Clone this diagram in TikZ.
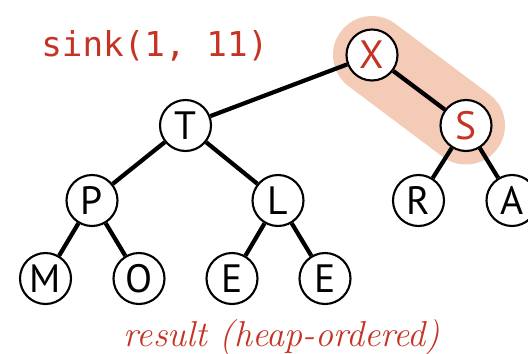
\documentclass[tikz,border=0pt]{standalone}
\usepackage{fontspec}
\usepackage{tikz}
\usetikzlibrary{positioning,arrows.meta}
\newfontfamily\keyfont{PT Sans}
\newfontfamily\codefont{DejaVu Sans Mono}
\definecolor{tracered}{RGB}{196,52,36}
\definecolor{softsalmon}{RGB}{243,203,183}
\tikzset{
    keynode/.style={
        draw,
        circle,
        fill=white,
        line width=1.2pt,
        inner sep=0pt,
        minimum size=1.02cm,
        font=\keyfont\fontsize{22.5}{24}\selectfont
    },
    redkey/.style={
        keynode,
        text=tracered
    },
    link/.style={line width=2.4pt},
    hilite/.style={line width=1.56cm, line cap=round, softsalmon}
}

\begin{document}
\begin{tikzpicture}

\useasboundingbox (0,0) rectangle (10.56,-7.06);

% highlighted path
\coordinate (hx) at (7.44,-1.10);
\coordinate (hs) at (9.32,-2.51);
\draw[hilite] (hx) -- (hs);

% ------------------------------------------------------------
% Heap nodes
% ------------------------------------------------------------

\node[redkey] (x) at (7.44,-1.10) {X};

\node[keynode] (t) at (3.71,-2.51) {T};
\node[redkey] (s) at (9.32,-2.51) {S};

\node[keynode] (p) at (1.84,-4.01) {P};
\node[keynode] (l) at (5.56,-4.01) {L};
\node[keynode] (r) at (8.37,-4.01) {R};
\node[keynode] (a) at (10.24,-4.01) {A};

\node[keynode] (m) at (0.91,-5.57) {M};
\node[keynode] (o) at (2.78,-5.57) {O};
\node[keynode] (e1) at (4.64,-5.57) {E};
\node[keynode] (e2) at (6.50,-5.57) {E};

% ------------------------------------------------------------
% Links
% ------------------------------------------------------------

\draw[link] (x) -- (t);
\draw[link] (x) -- (s);
\draw[link] (t) -- (p);
\draw[link] (t) -- (l);
\draw[link] (s) -- (r);
\draw[link] (s) -- (a);
\draw[link] (p) -- (m);
\draw[link] (p) -- (o);
\draw[link] (l) -- (e1);
\draw[link] (l) -- (e2);

% ------------------------------------------------------------
% Labels
% ------------------------------------------------------------

\node[anchor=base west, inner sep=0pt, text=tracered,
      font=\codefont\fontsize{19.5}{21}\selectfont] (call) at (0.82,-1.12)
{sink(1, 11)};

\node[anchor=base, inner sep=0pt, text=tracered,
      font=\itshape\fontsize{20.5}{22}\selectfont] (result) at (5.64,-6.92)
{result (heap-ordered)};

\end{tikzpicture}
\end{document}
